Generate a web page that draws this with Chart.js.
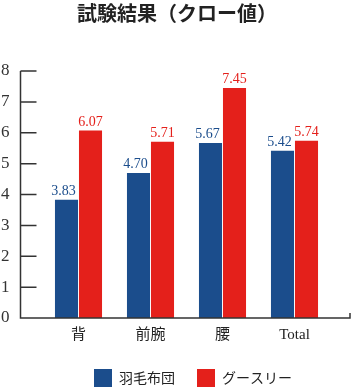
<!DOCTYPE html>
<html>
<head>
<meta charset="utf-8">
<script src="https://cdn.jsdelivr.net/npm/chart.js@4/dist/chart.umd.min.js"></script>
<style>
  html, body { margin: 0; padding: 0; background: #fff; }
  #wrap { width: 351px; height: 387px; }
</style>
</head>
<body>
<div id="wrap"><canvas id="chart-clo"></canvas></div>
<script>
const title = '試験結果（クロー値）';
const categories = ['背', '前腕', '腰', 'Total'];
const seriesNames = ['羽毛布団', 'グースリー'];
const down = [3.83, 4.70, 5.67, 5.42];
const goose = [6.07, 5.71, 7.45, 5.74];
const yTicks = [0, 1, 2, 3, 4, 5, 6, 7, 8];

const colors = ['#1b4d8c', '#e4201b'];
const ink = '#333';

// title, centred on the page rather than on the plot
const heading = {
    id: 'heading',
    afterDraw(chart) {
        const ctx = chart.ctx;
        ctx.save();
        ctx.font = 'bold 20px "Noto Sans CJK JP"';
        ctx.fillStyle = '#222';
        ctx.textAlign = 'center';
        ctx.textBaseline = 'middle';
        ctx.fillText(title, 177, 13);
        ctx.restore();
    },
};

// axis frame with inner tick marks, drawn from the scales
const frame = {
    id: 'frame',
    afterDraw(chart) {
        const ctx = chart.ctx;
        const y = chart.scales.y;
        const x0 = 20.5;
        const yTop = y.getPixelForValue(8);
        const yBottom = y.getPixelForValue(0);
        ctx.save();
        ctx.strokeStyle = ink;
        ctx.lineWidth = 1.5;
        ctx.beginPath();
        ctx.moveTo(x0, yTop);
        ctx.lineTo(x0, yBottom);
        ctx.lineTo(350, yBottom);
        ctx.lineTo(350, yBottom - 5);
        yTicks.forEach((t) => {
            const py = y.getPixelForValue(t);
            ctx.moveTo(x0, py);
            ctx.lineTo(x0 + 16, py);
        });
        ctx.stroke();
        ctx.restore();
    },
};

// value labels over the bars
const values = {
    id: 'values',
    afterDatasetsDraw(chart) {
        const ctx = chart.ctx;
        ctx.save();
        ctx.font = '14px "Liberation Serif"';
        ctx.textAlign = 'center';
        ctx.textBaseline = 'alphabetic';
        chart.data.datasets.forEach((ds, i) => {
            const shift = i === 0 ? -3 : 0;
            ctx.fillStyle = ds.backgroundColor;
            chart.getDatasetMeta(i).data.forEach((bar, j) => {
                ctx.fillText(ds.data[j].toFixed(2), bar.x + shift, bar.y - 5);
            });
        });
        ctx.restore();
    },
};

// legend at the bottom
const legendBox = {
    id: 'legendBox',
    afterDraw(chart) {
        const ctx = chart.ctx;
        const spots = [94, 197];
        ctx.save();
        ctx.font = '14px "Noto Sans CJK JP"';
        ctx.textBaseline = 'middle';
        chart.data.datasets.forEach((ds, i) => {
            ctx.fillStyle = ds.backgroundColor;
            ctx.fillRect(spots[i], 369, 18, 18);
            ctx.fillStyle = '#222';
            ctx.fillText(ds.label, spots[i] + 25, 378);
        });
        ctx.restore();
    },
};

new Chart(document.getElementById('chart-clo'), {
    type: 'bar',
    data: {
        labels: categories,
        datasets: [{
            label: seriesNames[0],
            data: down,
            backgroundColor: colors[0],
            categoryPercentage: 0.667,
            barPercentage: 0.96,
        }, {
            label: seriesNames[1],
            data: goose,
            backgroundColor: colors[1],
            categoryPercentage: 0.667,
            barPercentage: 0.96,
        }],
    },
    options: {
        responsive: true,
        maintainAspectRatio: false,
        animation: false,
        layout: {
            padding: { top: 71, right: 20.5, bottom: 43, left: 0 },
        },
        plugins: {
            legend: { display: false },
            tooltip: { enabled: false },
        },
        scales: {
            x: {
                grid: { display: false },
                border: { display: false },
                ticks: {
                    color: '#222',
                    padding: 0,
                    font: { family: '"Liberation Serif", "Noto Sans CJK JP"', size: 15 },
                },
            },
            y: {
                min: 0,
                max: 8,
                grid: { display: false },
                border: { display: false },
                afterFit(scale) {
                    scale.width = 42.5;
                },
                ticks: {
                    stepSize: 1,
                    color: ink,
                    padding: 25,
                    font: { family: '"Liberation Serif"', size: 17 },
                },
            },
        },
    },
    plugins: [heading, frame, values, legendBox],
});
</script>
</body>
</html>
